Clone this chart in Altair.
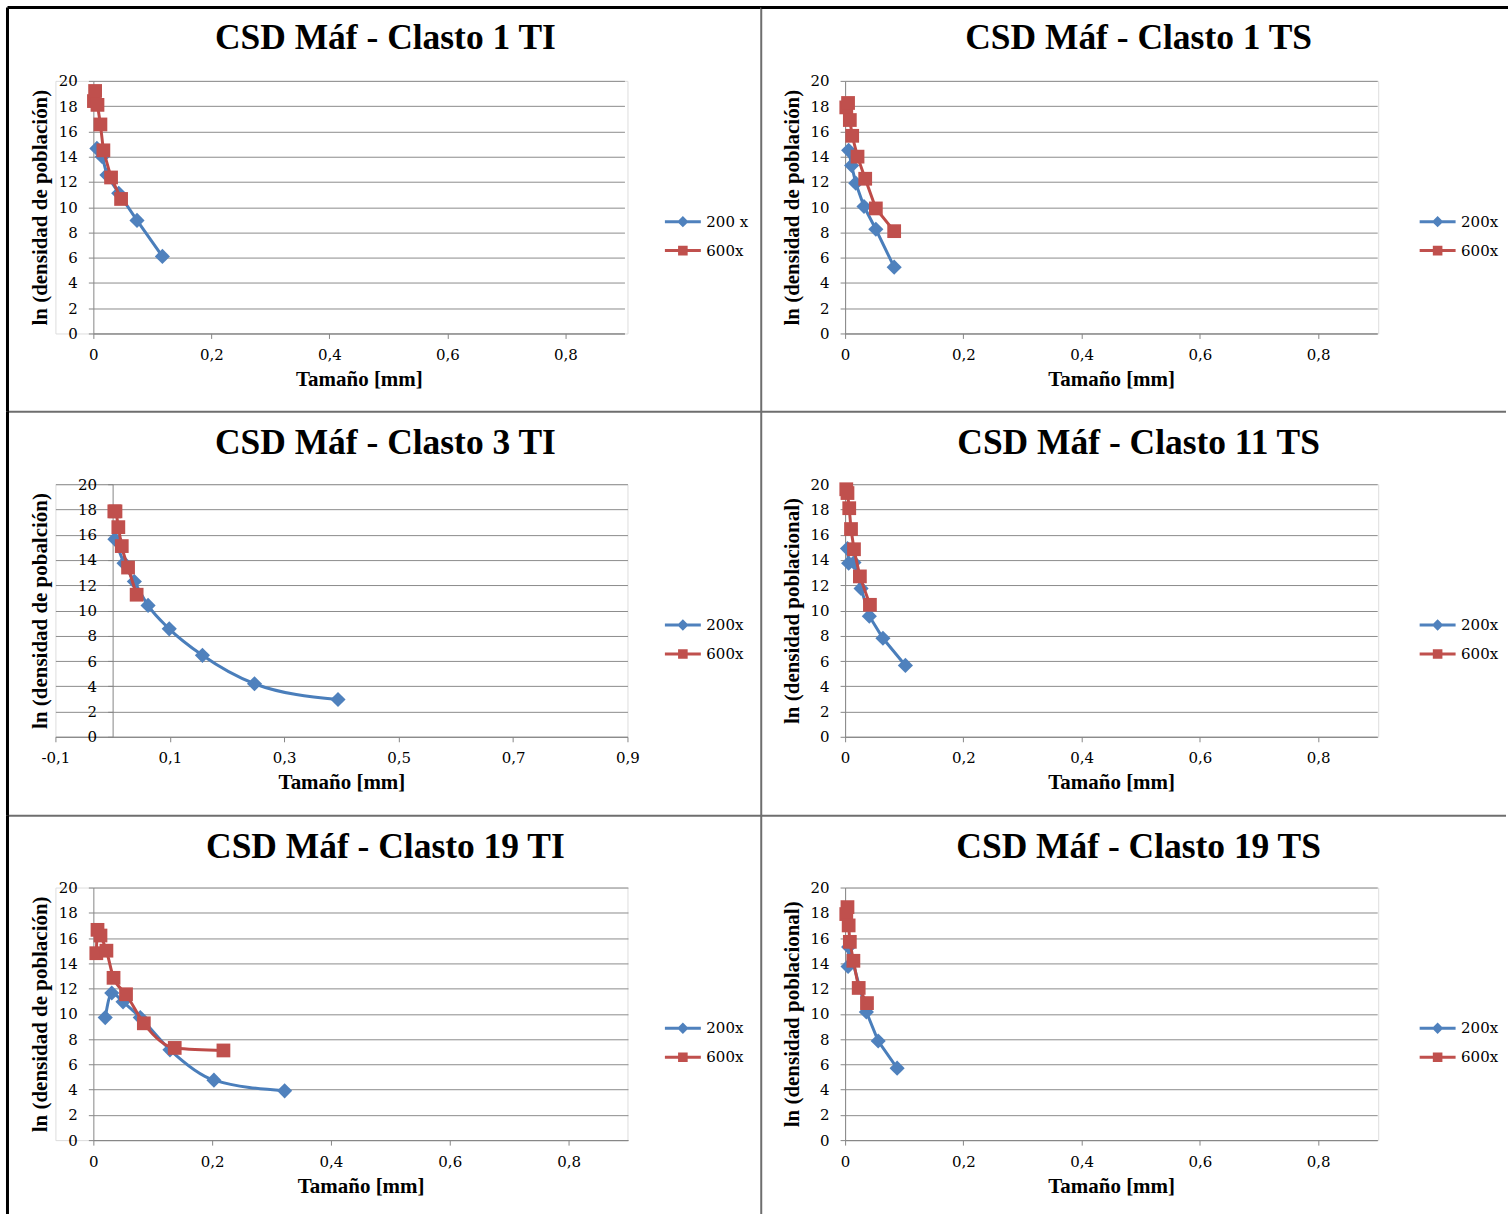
import altair as alt
import pandas as pd

# ---------------- data ----------------
titles = [
    "CSD Máf - Clasto 1 TI",
    "CSD Máf  - Clasto 1 TS",
    "CSD Máf - Clasto 3 TI",
    "CSD Máf - Clasto 11 TS",
    "CSD Máf - Clasto 19 TI",
    "CSD Máf - Clasto 19 TS",
]
ytitles = [
    "ln (densidad de población)",
    "ln (densidad de población)",
    "ln (densidad de pobalción)",
    "ln (densidad poblacional)",
    "ln (densidad de población)",
    "ln (densidad poblacional)",
]
series_a = ["200 x", "200x", "200x", "200x", "200x", "200x"]
series_b = ["600x", "600x", "600x", "600x", "600x", "600x"]

p1_a_x = [0.006, 0.015, 0.023, 0.043, 0.074, 0.117]
p1_a_y = [14.65, 14.0, 12.55, 11.1, 8.95, 6.1]
p1_b_x = [0.001, 0.003, 0.007, 0.012, 0.017, 0.030, 0.047]
p1_b_y = [18.4, 19.2, 18.1, 16.55, 14.5, 12.35, 10.65]

p2_a_x = [0.006, 0.011, 0.018, 0.032, 0.052, 0.083]
p2_a_y = [14.5, 13.3, 11.9, 10.05, 8.25, 5.25]
p2_b_x = [0.002, 0.005, 0.008, 0.012, 0.021, 0.034, 0.052, 0.083]
p2_b_y = [17.9, 18.25, 16.9, 15.65, 14.0, 12.25, 9.9, 8.1]

p3_a_x = [0.004, 0.020, 0.038, 0.062, 0.099, 0.157, 0.248, 0.394]
p3_a_y = [15.65, 13.75, 12.3, 10.4, 8.55, 6.45, 4.2, 2.95]
p3_b_x = [0.003, 0.005, 0.010, 0.016, 0.027, 0.042]
p3_b_y = [17.85, 17.85, 16.6, 15.1, 13.4, 11.25]

p4_a_x = [0.004, 0.006, 0.015, 0.027, 0.041, 0.064, 0.102]
p4_a_y = [14.9, 13.75, 13.8, 11.75, 9.55, 7.8, 5.65]
p4_b_x = [0.002, 0.004, 0.007, 0.010, 0.015, 0.025, 0.042]
p4_b_y = [19.6, 19.3, 18.1, 16.45, 14.85, 12.7, 10.45]

p5_a_x = [0.020, 0.031, 0.050, 0.079, 0.129, 0.203, 0.322]
p5_a_y = [9.7, 11.65, 10.95, 9.7, 7.15, 4.75, 3.9]
p5_b_x = [0.005, 0.007, 0.012, 0.022, 0.034, 0.055, 0.085, 0.137, 0.219]
p5_b_y = [14.8, 16.65, 16.2, 15.0, 12.85, 11.55, 9.25, 7.3, 7.1]

p6_a_x = [0.005, 0.006, 0.036, 0.056, 0.088]
p6_a_y = [13.75, 15.3, 10.15, 7.85, 5.7]
p6_b_x = [0.002, 0.004, 0.006, 0.008, 0.014, 0.023, 0.037]
p6_b_y = [17.9, 18.45, 17.0, 15.7, 14.2, 12.05, 10.85]

x_ticks_default = [0, 0.2, 0.4, 0.6, 0.8]
x_ticks_p3 = [-0.1, 0.1, 0.3, 0.5, 0.7, 0.9]
y_ticks = [0, 2, 4, 6, 8, 10, 12, 14, 16, 18, 20]

data_a = [(p1_a_x, p1_a_y), (p2_a_x, p2_a_y), (p3_a_x, p3_a_y),
          (p4_a_x, p4_a_y), (p5_a_x, p5_a_y), (p6_a_x, p6_a_y)]
data_b = [(p1_b_x, p1_b_y), (p2_b_x, p2_b_y), (p3_b_x, p3_b_y),
          (p4_b_x, p4_b_y), (p5_b_x, p5_b_y), (p6_b_x, p6_b_y)]
smooth = [False, False, True, False, True, False]

# ---------------- style ----------------
BLUE_LINE = "#4A7EBB"
BLUE_MARK = "#4F81BD"
RED_LINE = "#BE4B48"
RED_MARK = "#C0504D"
GRID = "#8C8C8C"
AXIS = "#868686"
SEP = "#6E6E6E"
SERIF = "Liberation Serif"
LABEL_FONT = "DejaVu Serif"

DIAMOND_LEG = "M-3,-0.25H3V0.25H-3Z M0,-0.95L0.95,0L0,0.95L-0.95,0Z"
SQUARE_LEG = "M-3,-0.25H3V0.25H-3Z M-0.8,-0.8H0.8V0.8H-0.8Z"

H = 253
W_LEFT = 573
W_RIGHT = 534

LABEL_EXPR = ("datum.value == 0 ? '0' : (datum.value < 0 ? '-' : '') + "
              "replace(format(abs(datum.value), '.1f'), '.', ',')")

one = pd.DataFrame({"k": [0]})


def rule(**enc):
    col = enc.pop("_color")
    w = enc.pop("_w")
    op = enc.pop("_op", 1)
    return alt.Chart(one).mark_rule(color=col, strokeWidth=w, opacity=op).encode(**enc)


def panel(i):
    col = i % 2
    row = i // 2
    left = col == 0
    W = W_LEFT if left else W_RIGHT

    if left:
        if i == 2:
            xdom, xrng, xt, yoff, ttx = [-0.1, 0.9], [0, 573], x_ticks_p3, -57.3, -62
        elif i == 0:
            xdom, xrng, xt, yoff, ttx = [0, 0.9], [38, 570], x_ticks_default, -38, -43
        else:
            xdom, xrng, xt, yoff, ttx = [0, 0.9], [38, 573.5], x_ticks_default, -38, -43
        lx = 621
        cx1, cx2 = -48, 707
        tdx = 44
    else:
        xdom, xrng, xt, yoff, ttx = [0, 0.9], [0, 533], x_ticks_default, 0, -43
        lx = 586
        cx1, cx2 = -84, 662
        tdx = 27

    ctop = [-73.5, -72.5, -72][row]
    cbot = [331.5, 332, 327][row]

    xscale = alt.Scale(domain=xdom, range=xrng, nice=False, zero=False)
    yscale = alt.Scale(domain=[0, 20], nice=False, zero=True)

    xaxis = alt.Axis(
        values=xt, labelExpr=LABEL_EXPR, title="Tamaño [mm]", grid=False,
        domainColor=AXIS, tickColor=AXIS, tickSize=5, labelFlush=False,
        labelOverlap=False, labelFont=LABEL_FONT, labelFontSize=15,
        labelColor="black", labelPadding=9, titleFont=SERIF, titleFontSize=21,
        titleFontWeight="bold", titleColor="black", titlePadding=6,
    )
    yaxis = alt.Axis(
        values=y_ticks, format="d", title=ytitles[i], grid=True,
        gridColor=GRID, gridWidth=1, domainColor=AXIS, tickColor=AXIS,
        tickSize=5, offset=yoff, labelFont=LABEL_FONT, labelFontSize=15,
        labelColor="black", labelPadding=11, labelOverlap=False,
        titleFont=SERIF, titleFontSize=21, titleFontWeight="bold",
        titleColor="black", titleX=ttx, titleY=H / 2,
    )
    X = alt.X("x:Q", scale=xscale, axis=xaxis)
    Y = alt.Y("y:Q", scale=yscale, axis=yaxis)

    ax, ay = data_a[i]
    bx, by = data_b[i]
    la, lb = series_a[i], series_b[i]
    dfa = pd.DataFrame({"x": ax, "y": ay, "s": la})
    dfb = pd.DataFrame({"x": bx, "y": by, "s": lb})
    dfall = pd.concat([dfa, dfb], ignore_index=True)
    interp = "monotone" if smooth[i] else "linear"

    layers = []
    # invisible anchor so every panel's title sits at the same height
    layers.append(rule(x=alt.value(0), x2=alt.value(10), y=alt.value(-73.5),
                       _color="white", _w=3, _op=0))
    # cell borders
    if row == 0:
        layers.append(rule(x=alt.value(cx1), x2=alt.value(cx2 + 2), y=alt.value(ctop),
                           _color="black", _w=3))
    if row < 2:
        layers.append(rule(x=alt.value(cx1), x2=alt.value(cx2), y=alt.value(cbot),
                           _color=SEP, _w=2))
    if left:
        layers.append(rule(x=alt.value(cx1), y=alt.value(ctop), y2=alt.value(cbot),
                           _color="black", _w=3))
        layers.append(rule(x=alt.value(cx2), y=alt.value(ctop), y2=alt.value(cbot),
                           _color=SEP, _w=2))

    layers.append(alt.Chart(dfa).mark_line(color=BLUE_LINE, strokeWidth=3,
                                           interpolate=interp).encode(x=X, y=Y))
    layers.append(alt.Chart(dfa).mark_point(shape="diamond", filled=True, size=230,
                                            color=BLUE_MARK, opacity=1).encode(x=X, y=Y))
    layers.append(alt.Chart(dfb).mark_line(color=RED_LINE, strokeWidth=3,
                                           interpolate=interp).encode(x=X, y=Y))
    layers.append(alt.Chart(dfb).mark_point(shape="square", filled=True, size=190,
                                            color=RED_MARK, opacity=1).encode(x=X, y=Y))

    leg = alt.Legend(
        orient="none", legendX=lx, legendY=133.5, title=None, padding=0,
        labelFont=LABEL_FONT, labelFontSize=15, labelColor="black",
        labelOffset=16, rowPadding=13, symbolSize=144, symbolStrokeWidth=0,
        symbolOpacity=1,
    )
    layers.append(
        alt.Chart(dfall).transform_filter("false").mark_point(filled=True, opacity=1).encode(
            x=X, y=Y,
            color=alt.Color("s:N", scale=alt.Scale(domain=[la, lb], range=[BLUE_MARK, RED_MARK]),
                            legend=leg),
            shape=alt.Shape("s:N", scale=alt.Scale(domain=[la, lb], range=[DIAMOND_LEG, SQUARE_LEG]),
                            legend=leg),
        )
    )

    return alt.layer(*layers).properties(
        width=W, height=H,
        title=alt.TitleParams(
            text=titles[i], font=SERIF, fontSize=35.5, fontWeight="bold",
            color="black", anchor="middle", frame="group", offset=0, dx=tdx, dy=51,
        ),
    )


chart = alt.concat(
    *[panel(i) for i in range(6)],
    columns=2,
    spacing={"row": 151, "column": 218},
    bounds="flush",
).resolve_scale(
    color="independent", shape="independent"
).resolve_legend(
    color="independent", shape="independent"
).properties(
    padding={"left": 5.5, "top": 4, "right": 0, "bottom": 0},
).configure_view(stroke="transparent").configure(background="white")

chart.save("out.html", embed_options={"renderer": "svg", "actions": False})
